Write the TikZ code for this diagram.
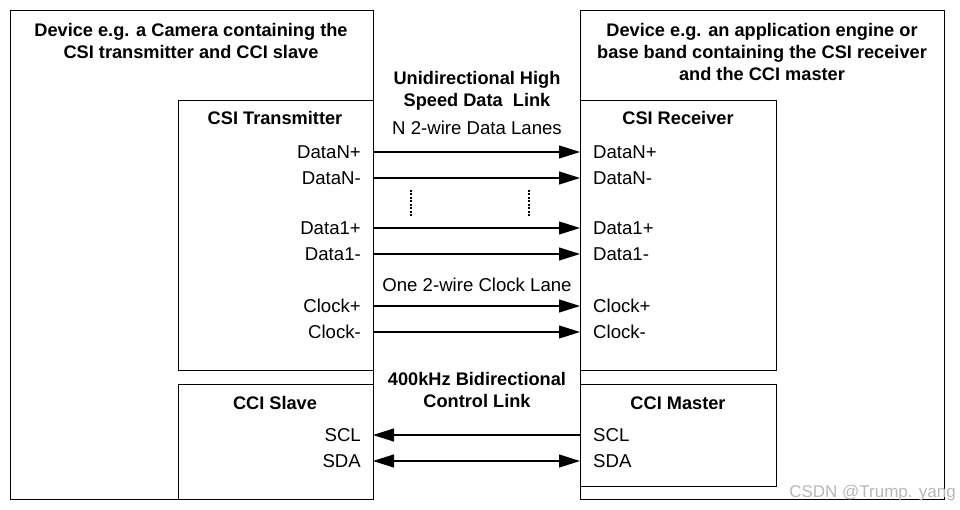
\documentclass[tikz,border=0pt]{standalone}
\usepackage{fontspec}
\setmainfont{Liberation Sans}
\usetikzlibrary{positioning,arrows.meta}

\tikzset{
  box/.style={draw, line width=1.1pt, anchor=north west, inner sep=0pt},
  head/.style={font=\fontsize{18.2}{22}\selectfont\bfseries, align=center},
  sig/.style={font=\fontsize{18.6}{22}\selectfont, inner sep=0pt},
  lane/.style={line width=1.1pt, -{Triangle[length=21pt,width=13pt]}},
  both/.style={line width=1.1pt, {Triangle[length=21pt,width=13pt]}-{Triangle[length=21pt,width=13pt]}},
  back/.style={line width=1.1pt, {Triangle[length=21pt,width=13pt]}-}
}

\begin{document}
\begin{tikzpicture}[x=1pt,y=-1pt]
  \useasboundingbox (0,0) rectangle (960,510);
  % devices
  \node[box, minimum width=363pt, minimum height=489pt] (devL) at (10,10) {};
  \node[box, minimum width=364pt, minimum height=489pt] (devR) at (580,10) {};
  \node[box, minimum width=195pt, minimum height=270pt] (tx) at (178,100) {};
  \node[box, minimum width=195pt, minimum height=115pt] (slave) at (178,384) {};
  \node[box, minimum width=196pt, minimum height=270pt] (rx) at (580,100) {};
  \node[box, minimum width=196pt, minimum height=102pt] (master) at (580,384) {};
  % titles
  \node[head] (devLt) at (191,41) {Device e.g. a Camera containing the\\CSI transmitter and CCI slave};
  \node[head] (devRt) at (762,51.5) {Device e.g. an application engine or\\base band containing the CSI receiver\\and the CCI master};
  \node[head] (txt) at (275,118) {CSI Transmitter};
  \node[head] (rxt) at (678,118) {CSI Receiver};
  \node[head] (slavet) at (275,403) {CCI Slave};
  \node[head] (mastert) at (678,403) {CCI Master};
  \node[head] (hslink) at (477,90.5) {Unidirectional High\\Speed Data\ \ Link};
  \node[head] (ctrl) at (477,389.5) {400kHz Bidirectional\\Control Link};
  \node[sig] (lanes) at (477,128) {N 2-wire Data Lanes};
  \node[sig] (clane) at (477,285) {One 2-wire Clock Lane};
  % signals
  \foreach \nm/\lbl/\y in {dnp/DataN+/152, dnn/DataN-/178, dap/Data1+/228,
                           dan/Data1-/254, ckp/Clock+/306, ckn/Clock-/332,
                           scl/SCL/435, sda/SDA/461} {
    \node[sig, anchor=east, inner xsep=12pt] (\nm L) at (373,\y) {\lbl};
    \node[sig, anchor=west, inner xsep=13pt] (\nm R) at (580,\y) {\lbl};
  }
  \foreach \nm in {dnp, dnn, dap, dan, ckp, ckn}
    \draw[lane] (\nm L.east) -- (\nm R.west);
  \draw[back] (sclL.east) -- (sclR.west);
  \draw[both] (sdaL.east) -- (sdaR.west);
  % more lanes
  \draw[line width=1.2pt, dash pattern=on 2pt off 1.5pt] (411,190) -- (411,216);
  \draw[line width=1.2pt, dash pattern=on 2pt off 1.5pt] (529,190) -- (529,216);
  \node[font=\fontsize{17}{20}\selectfont, text=black!28, anchor=east, inner sep=0pt] (mark) at (956,493) {CSDN @Trump. yang};
\end{tikzpicture}
\end{document}
